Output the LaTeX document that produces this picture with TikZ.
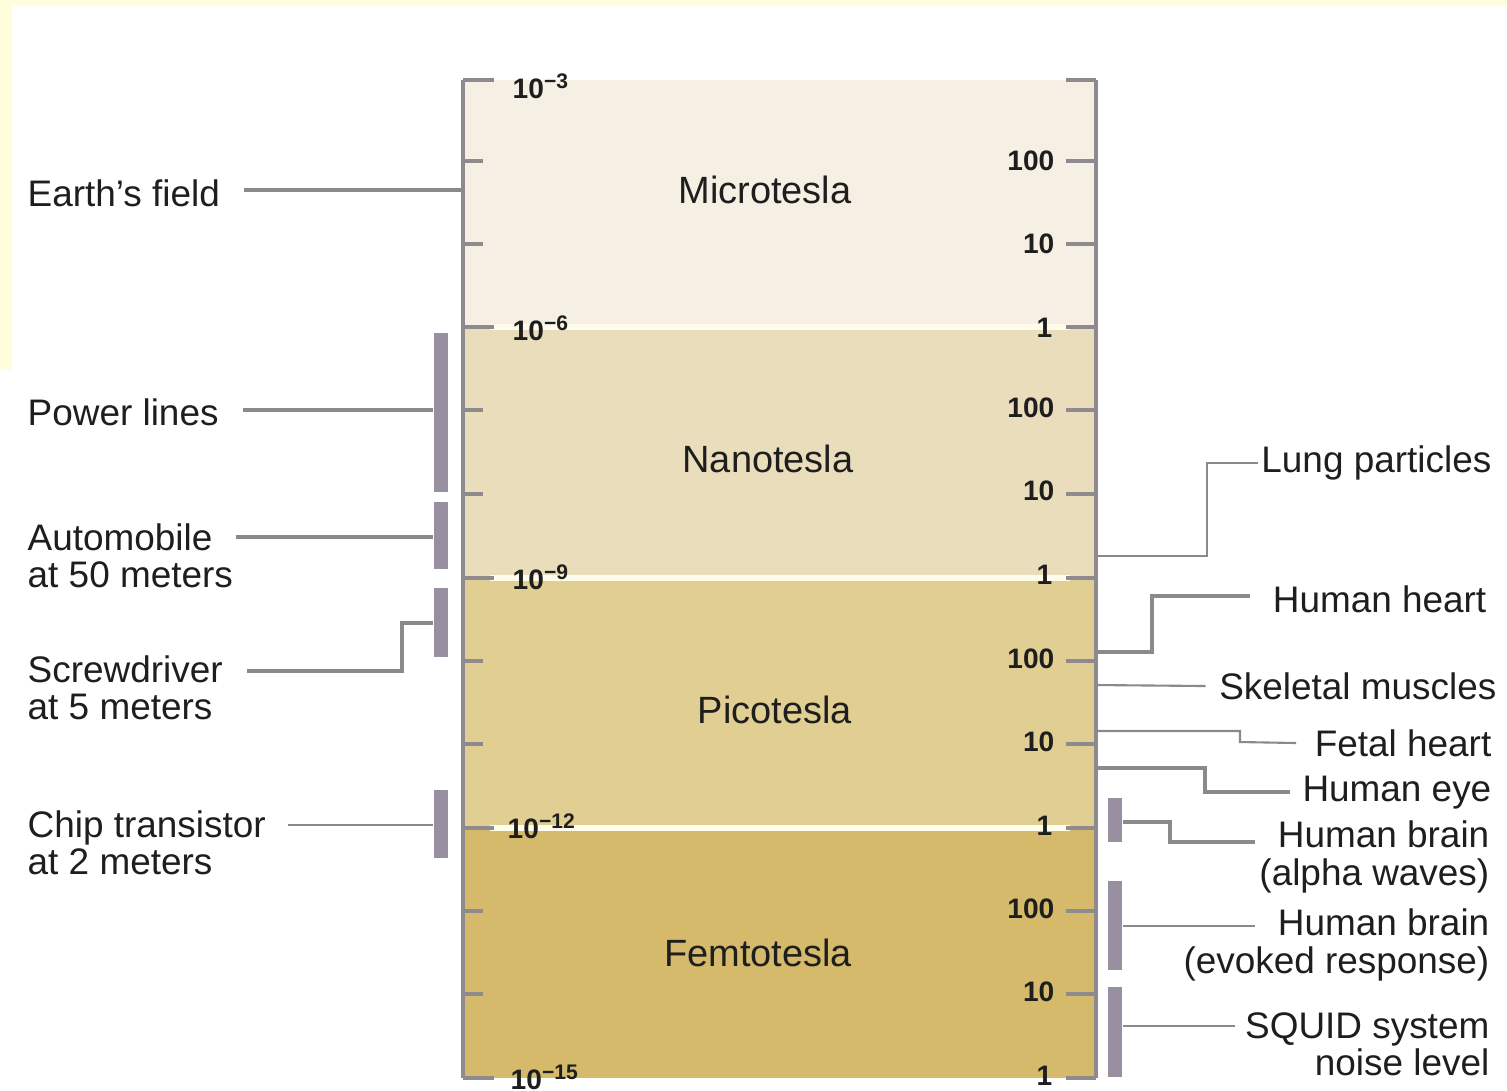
\documentclass[tikz,border=0pt]{standalone}
\usepackage{fontspec}
\setmainfont{Liberation Sans}
\usetikzlibrary{positioning}
\definecolor{microcol}{RGB}{245,239,228}
\definecolor{nanocol}{RGB}{233,221,187}
\definecolor{picocol}{RGB}{224,206,146}
\definecolor{femtocol}{RGB}{212,186,106}
\definecolor{sepcol}{RGB}{255,252,236}
\definecolor{axiscol}{RGB}{142,138,142}
\definecolor{linecol}{RGB}{138,138,138}
\definecolor{barcol}{RGB}{152,144,160}
\definecolor{textcol}{RGB}{30,30,30}
\definecolor{framecol}{RGB}{255,253,220}
\tikzset{%
	itemlbl/.style  = {font=\fontsize{10.5}{10.6}\selectfont, text=textcol, inner sep=0pt},
	bandlbl/.style  = {font=\fontsize{10.8}{13}\selectfont, text=textcol, inner sep=0pt},
	numlbl/.style   = {font=\fontsize{8}{9}\selectfont\bfseries, text=textcol, inner sep=0pt},
	rangebar/.style = {fill=barcol, draw=none, rectangle, minimum width=0.14cm, inner sep=0pt},
	thinline/.style = {draw=linecol, line width=0.6pt},
	medline/.style  = {draw=linecol, line width=0.9pt},
	thickline/.style= {draw=linecol, line width=1.4pt},
	axisline/.style = {draw=axiscol, line width=1pt},
	tickline/.style = {draw=axiscol, line width=0.9pt},
	sepline/.style  = {draw=sepcol, line width=1.7pt},
}

\begin{document}
\begin{tikzpicture}[x=0.01cm,y=-0.01cm]
		\useasboundingbox (0,0) rectangle (1507,1090);
		\fill[framecol] (0,0) rectangle (1507,6);
		\fill[framecol] (0,0) rectangle (12,370);
		% bands
		\fill[microcol] (463,80) rectangle (1095,327);
		\fill[nanocol] (463,327) rectangle (1095,578);
		\fill[picocol] (463,578) rectangle (1095,828);
		\fill[femtocol] (463,828) rectangle (1095,1078);
		\draw[sepline] (490,327) -- (1070,327);
		\draw[sepline] (490,578) -- (1070,578);
		\draw[sepline] (490,828) -- (1070,828);
		% axes
		\coordinate (axL) at (463,80);
		\coordinate (axR) at (1096,80);
		\draw[axisline] (463,80) -- (463,1078);
		\draw[axisline] (1096,80) -- (1096,1078);
		\foreach \y in {80,327,578,828,1078} \draw[tickline] (463,\y) -- (494,\y);
		\foreach \y in {161,244,410,494,661,744,911,994} \draw[tickline] (463,\y) -- (483,\y);
		\foreach \y in {80,161,244,327,410,494,578,661,744,828,911,994,1078} \draw[tickline] (1066,\y) -- (1096,\y);
		% exponents
		\node[numlbl, anchor=west] (e3) at (512,86) {10\textsuperscript{−3}};
		\node[numlbl, anchor=west] (e6) at (512,328) {10\textsuperscript{−6}};
		\node[numlbl, anchor=west] (e9) at (512,577) {10\textsuperscript{−9}};
		\node[numlbl, anchor=west] (e12) at (507,826) {10\textsuperscript{−12}};
		\node[numlbl, anchor=west] (e15) at (510,1077) {10\textsuperscript{−15}};
		\foreach \t in {80,327,578,828} {
			\node[numlbl, anchor=east] at (1055,\t+81) {100};
			\node[numlbl, anchor=east] at (1055,\t+164) {10};
			\node[numlbl, anchor=east] at (1053,\t+248) {1};
		}
		% band names
		\node[bandlbl] (micro) at (765,190) {Microtesla};
		\node[bandlbl] (nano) at (768,459) {Nanotesla};
		\node[bandlbl] (pico) at (775,710) {Picotesla};
		\node[bandlbl] (femto) at (758,953) {Femtotesla};
		% left side
		\node[itemlbl, anchor=west] (earth) at (27,193) {Earth’s field};
		\node[itemlbl, anchor=west] (power) at (27,412) {Power lines};
		\node[itemlbl, anchor=west, align=left] (auto) at (27,556) {Automobile\\at 50 meters};
		\node[itemlbl, anchor=west, align=left] (screw) at (27,688) {Screwdriver\\at 5 meters};
		\node[itemlbl, anchor=west, align=left] (chip) at (27,843) {Chip transistor\\at 2 meters};
		\node[rangebar, minimum height=1.59cm] (powerbar) at (441,412.5) {};
		\node[rangebar, minimum height=0.67cm] (autobar) at (441,535.5) {};
		\node[rangebar, minimum height=0.69cm] (screwbar) at (441,622.5) {};
		\node[rangebar, minimum height=0.68cm] (chipbar) at (441,824) {};
		\draw[thickline] ([xshift=0.23cm]earth.east |- 0,190) -- (axL |- 0,190);
		\draw[thickline] ([xshift=0.24cm]power.east |- 0,410) -- (powerbar.west |- 0,410);
		\draw[thickline] ([xshift=0.02cm]auto.east |- 0,537) -- (autobar.west |- 0,537);
		\draw[medline] ([xshift=0.24cm]screw.east |- 0,671) -| (402,623) -- (screwbar.west |- 0,623);
		\draw[thinline] ([xshift=0.22cm]chip.east |- 0,825) -- (chipbar.west |- 0,825);
		% right side
		\node[itemlbl, anchor=east] (lung) at (1492,463) {Lung particles};
		\node[itemlbl, anchor=east] (heart) at (1487,599) {Human heart};
		\node[itemlbl, anchor=east] (skel) at (1497,686) {Skeletal muscles};
		\node[itemlbl, anchor=east] (fetal) at (1492,743) {Fetal heart};
		\node[itemlbl, anchor=east] (eye) at (1492,793) {Human eye};
		\node[itemlbl, anchor=east, align=right] (alpha) at (1490,857) {Human brain\\(alpha waves)};
		\node[itemlbl, anchor=east, align=right] (evoked) at (1490,945) {Human brain\\(evoked response)};
		\node[itemlbl, anchor=east, align=right] (squid) at (1490,1044) {SQUID system\\noise level};
		\node[rangebar, minimum height=0.44cm] (alphabar) at (1115,820) {};
		\node[rangebar, minimum height=0.89cm] (evokedbar) at (1115,925.5) {};
		\node[rangebar, minimum height=0.90cm] (squidbar) at (1115,1032) {};
		\draw[thinline] (axR |- 0,556) -| (1207,463) -- ([xshift=-0.03cm]lung.west);
		\draw[thickline] (axR |- 0,652) -| (1152,596) -- ([xshift=-0.22cm]heart.west |- 0,596);
		\draw[thinline] (axR |- 0,685) -- ([xshift=-0.13cm]skel.west);
		\draw[thinline] (axR |- 0,731) -| (1240,742) -- ([xshift=-0.18cm]fetal.west);
		\draw[medline] (axR |- 0,768) -| (1205,792) -- ([xshift=-0.12cm]eye.west |- 0,792);
		\draw[thickline] (alphabar.east |- 0,822) -| (1170,842) -- (1255,842);
		\draw[thinline] (evokedbar.east |- 0,926) -- (1255,926);
		\draw[thinline] (squidbar.east |- 0,1026) -- (1235,1026);
		\end{tikzpicture}
\end{document}
